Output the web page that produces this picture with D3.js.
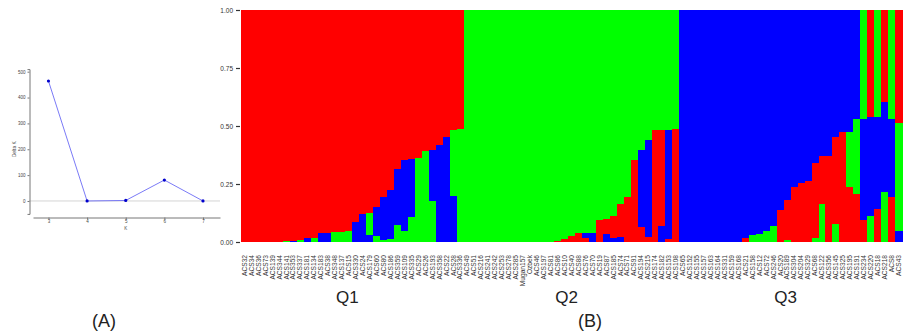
<!DOCTYPE html>
<html>
<head>
<meta charset="utf-8">
<script src="https://cdn.jsdelivr.net/npm/d3@7"></script>
<style>
body { margin: 0; background: #fff; }
svg { display: block; font-family: "Liberation Sans", Arial, sans-serif; }
</style>
</head>
<body>
<svg width="905" height="333"></svg>
<script>

// ---- panel A : Delta K ----
const kValues = [3, 4, 5, 6, 7]
const deltaK = [464, 0, 2, 81, 0]
const deltaTicks = [0, 100, 200, 300, 400, 500]

// ---- panel B : membership per sample ----
const groupNames = ["Q1", "Q2", "Q3"]
const groupSizes = [32, 31, 32]

const samples = [
    "ACS32", "ACS34", "ACS36", "ACS73", "ACS139", "ACS344", "ACS141", "ACS353", "ACS337", "ACS181", "ACS134",
    "ACS183", "ACS38", "ACS348", "ACS137", "ACS15", "ACS330", "ACS24", "ACS179", "ACS60", "ACS80", "ACS186",
    "ACS359", "ACS109", "ACS335", "ACS29", "ACS26", "ACS193", "ACS358", "ACS22", "ACS28", "ACS336",
    "ACS49", "ACS51", "ACS216", "ACS241", "ACS242", "ACS253", "ACS278", "ACS285", "Mugan157", "Ozbek", "ACS46",
    "ACS197", "ACS81", "ACS86", "ACS10", "ACS40", "ACS88", "ACS76", "ACS70", "ACS19", "ACS87", "ACS185",
    "ACS74", "ACS71", "ACS91", "ACS194", "ACS215", "ACS174", "ACS182", "ACS153", "ACS108",
    "ACS65", "ACS152", "ACS155", "ACS157", "ACS163", "ACS164", "ACS331", "ACS159", "ACS168", "ACS21", "ACS158",
    "ACS12", "ACS72", "ACS246", "ACS20", "ACS189", "ACS304", "ACS204", "ACS329", "ACS68", "ACS122", "ACS356",
    "ACS145", "ACS325", "ACS195", "ACS191", "ACS234", "ACS220", "ACS18", "ACS218", "ACS8", "ACS43"
]

const red = [
    1, 1, 1, 1, 1, 1, .995, .993, .99, .983, .982, .96, .96, .956, .954, .95,
    .914, .88, .875, .846, .803, .774, .683, .647, .64, .635, .605, .6, .58, .545, .515, .51,
    0, 0, 0, 0, 0, 0, 0, 0, 0, 0, 0, 0, .003, .006, .014, .027,
    .04, .02, 0, .096, .064, .095, .141, .194, .353, .065, .022, .485, .413, .014, .49,
    0, 0, 0, 0, 0, 0, 0, 0, 0, .017, 0, 0, 0, 0, .14, .174,
    .24, .255, .266, .321, .207, .374, .373, .475, .237, .209, .094, .46, .144, .396, .194, .486
]

const green = [
    0, 0, 0, 0, 0, 0, .005, .003, .01, 0, .018, 0, 0, .044, .046, .05,
    0, 0, .095, .028, .01, .014, .075, .05, .108, .365, .395, .18, 0, 0, .285, .49,
    1, 1, 1, 1, 1, 1, 1, 1, 1, 1, 1, 1, .997, .994, .986, .973,
    .96, .96, .96, .904, .9, .885, .837, .806, .647, .6, .561, .515, .515, .515, .51,
    0, 0, 0, 0, 0, 0, 0, 0, 0, 0, .033, .036, .047, .072, 0, .01,
    0, 0, 0, .02, .163, 0, .08, 0, .238, .323, .468, .115, .458, .216, .468, .464
]

const blue = [
    0, 0, 0, 0, 0, 0, 0, .004, 0, .017, 0, .04, .04, 0, 0, 0,
    .086, .12, .03, .126, .187, .212, .242, .303, .252, 0, 0, .22, .42, .455, .2, 0,
    0, 0, 0, 0, 0, 0, 0, 0, 0, 0, 0, 0, 0, 0, 0, 0,
    0, .02, .04, 0, .036, .02, .022, 0, 0, .335, .417, 0, .072, .471, 0,
    1, 1, 1, 1, 1, 1, 1, 1, 1, .983, .967, .964, .953, .928, .86, .816,
    .76, .745, .734, .659, .63, .626, .547, .525, .525, .468, .438, .425, .398, .388, .338, .05
]

// stacking order of the clusters in each bar, bottom to top
const stackOrder = [
    "GBR", "GBR", "GBR", "GBR", "GBR", "GBR", "GBR", "BGR", "GBR", "BGR", "GBR", "BGR", "BGR", "GBR", "GBR", "GBR",
    "BGR", "BGR", "BGR", "GBR", "GBR", "GBR", "GBR", "GBR", "GBR", "GBR", "GBR", "GBR", "BGR", "BGR", "BGR", "GBR",
    "RBG", "RBG", "RBG", "RBG", "RBG", "RBG", "RBG", "RBG", "RBG", "RBG", "RBG", "RBG", "RBG", "RBG", "RBG", "RBG",
    "RBG", "RBG", "BRG", "RBG", "BRG", "BRG", "BRG", "RBG", "RBG", "RBG", "RBG", "RBG", "BRG", "RBG", "RBG",
    "RGB", "RGB", "RGB", "RGB", "RGB", "RGB", "RGB", "RGB", "RGB", "RGB", "GRB", "GRB", "GRB", "GRB", "RGB", "GRB",
    "RGB", "RGB", "RGB", "GRB", "GRB", "RGB", "GRB", "RGB", "RGB", "RGB", "RBG", "GBR", "RBG", "GBR", "RBG", "BGR"
]

const yTicksB = [0, 0.25, 0.5, 0.75, 1]
const clusterColors = { R: "#ff0000", G: "#00ff00", B: "#0000ff" }

const svg = d3.select("svg")

// ================= panel A =================
const gA = svg.append("g")

const xA = d3.scaleLinear().domain([2.6, 7.44]).range([33, 220])
const yA = d3.scaleLinear().domain([-50, 510]).range([213.9, 69.1])

gA.append("line")
    .attr("x1", 29).attr("x2", 220)
    .attr("y1", yA(0)).attr("y2", yA(0))
    .attr("stroke", "#c8c8c8").attr("stroke-width", 0.8)

const yAxisA = gA.append("g")
    .attr("transform", "translate(29.5,0)")
    .call(d3.axisLeft(yA).tickValues(deltaTicks).tickSize(2).tickPadding(2))
yAxisA.select(".domain").attr("stroke", "#777")
yAxisA.selectAll(".tick line").attr("stroke", "#777")
yAxisA.selectAll("text").attr("font-size", 4.5).attr("fill", "#444")

const xAxisA = gA.append("g")
    .attr("transform", "translate(0,217.5)")
    .call(d3.axisBottom(xA).tickValues(kValues).tickFormat(d3.format("d")).tickSize(2).tickPadding(0.8).tickSizeOuter(0))
xAxisA.select(".domain").attr("stroke", "#666").attr("stroke-width", 0.9)
xAxisA.selectAll(".tick line").attr("stroke", "#777")
xAxisA.selectAll("text").attr("font-size", 4.5).attr("fill", "#444")

gA.append("text")
    .attr("transform", "translate(16," + yA(200) + ") rotate(-90)")
    .attr("text-anchor", "middle")
    .attr("font-size", 4.8).attr("fill", "#444")
    .text("Delta K")

gA.append("text")
    .attr("x", xA(5)).attr("y", 229.5)
    .attr("text-anchor", "middle")
    .attr("font-size", 4.5).attr("fill", "#444")
    .text("K")

const pointsA = kValues.map((k, i) => ({ k: k, v: deltaK[i] }))

gA.append("path")
    .datum(pointsA)
    .attr("fill", "none")
    .attr("stroke", "#6b6bf5")
    .attr("stroke-width", 0.9)
    .attr("d", d3.line().x(d => xA(d.k)).y(d => yA(d.v)))

gA.selectAll("circle")
    .data(pointsA)
    .enter()
    .append("circle")
    .attr("cx", d => xA(d.k))
    .attr("cy", d => yA(d.v))
    .attr("r", 1.6)
    .attr("fill", "#0000cc")

gA.append("text")
    .attr("x", 104).attr("y", 327)
    .attr("text-anchor", "middle")
    .attr("font-size", 18).attr("fill", "#222")
    .text("(A)")

// ================= panel B =================
const gB = svg.append("g")

const xB = d3.scaleBand().domain(samples).range([241, 902]).padding(0)
const yB = d3.scaleLinear().domain([0, 1]).range([242, 10])

const segments = samples.map((s, i) => {
    let acc = 0
    return stackOrder[i].split("").map(c => {
        const v = c == "R" ? red[i] : c == "G" ? green[i] : blue[i]
        const seg = { sample: s, cluster: c, y0: acc, y1: Math.min(1, acc + v) }
        acc += v
        return seg
    })
}).flat().filter(d => d.y1 > d.y0)

gB.selectAll("rect")
    .data(segments)
    .enter()
    .append("rect")
    .attr("x", d => xB(d.sample))
    .attr("width", xB.bandwidth() + 0.6)
    .attr("y", d => yB(d.y1))
    .attr("height", d => yB(d.y0) - yB(d.y1) + 0.3)
    .attr("fill", d => clusterColors[d.cluster])
    .attr("shape-rendering", "crispEdges")

const yAxisB = gB.append("g")
    .attr("transform", "translate(240,0)")
    .call(d3.axisLeft(yB).tickValues(yTicksB).tickFormat(d3.format(".2f")).tickSize(4).tickPadding(3))
yAxisB.select(".domain").remove()
yAxisB.selectAll(".tick line").attr("stroke", "#333").attr("stroke-width", 1.2)
yAxisB.selectAll("text").attr("font-size", 6.5).attr("fill", "#333")

gB.selectAll("text.sample")
    .data(samples)
    .enter()
    .append("text")
    .attr("class", "sample")
    .attr("transform", d => "translate(" + (xB(d) + xB.bandwidth() / 2 + 2.3) + ",255) rotate(-90)")
    .attr("text-anchor", "end")
    .attr("font-size", 6.6)
    .attr("fill", "#333")
    .text(d => d)

// group labels under the bars
let start = 0
groupNames.forEach((name, gi) => {
    const first = samples[start]
    const last = samples[start + groupSizes[gi] - 1]
    const cx = (xB(first) + xB(last) + xB.bandwidth()) / 2
    gB.append("text")
        .attr("x", cx - 5).attr("y", 303)
        .attr("text-anchor", "middle")
        .attr("font-size", 17).attr("fill", "#222")
        .text(name)
    start += groupSizes[gi]
})

gB.append("text")
    .attr("x", 590).attr("y", 327)
    .attr("text-anchor", "middle")
    .attr("font-size", 18).attr("fill", "#222")
    .text("(B)")

</script>
</body>
</html>
